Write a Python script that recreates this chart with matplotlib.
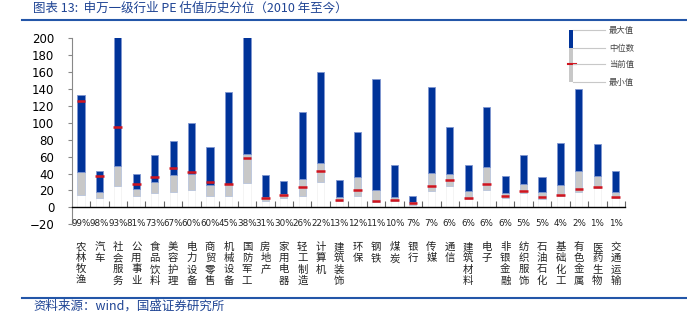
import numpy as np
import matplotlib
matplotlib.use('Agg')
import matplotlib.pyplot as plt
import matplotlib.transforms as mtrans
from matplotlib.patches import Rectangle
from matplotlib.lines import Line2D

plt.rcParams['font.family'] = ['Noto Sans CJK SC', 'DejaVu Sans']

# ===========================================================================
# Data
# ===========================================================================
industries = ['农林牧渔', '汽车', '社会服务', '公用事业', '食品饮料', '美容护理', '电力设备',
              '商贸零售', '机械设备', '国防军工', '房地产', '家用电器', '轻工制造', '计算机',
              '建筑装饰', '环保', '钢铁', '煤炭', '银行', '传媒', '通信', '建筑材料', '电子',
              '非银金融', '纺织服饰', '石油石化', '基础化工', '有色金属', '医药生物', '交通运输']
pct_labels = ['99%', '98%', '93%', '81%', '73%', '67%', '60%', '60%', '45%', '38%', '31%', '30%',
              '26%', '22%', '13%', '12%', '11%', '10%', '7%', '7%', '6%', '6%', '6%', '6%',
              '5%', '5%', '4%', '2%', '1%', '1%']
pe_max = [133.4, 42.7, 250.0, 40.0, 62.5, 78.3, 99.7, 70.9, 136.1, 230.0, 38.4, 31.7, 113.2, 159.5,
          32.9, 89.5, 151.6, 50.3, 13.9, 142.0, 94.6, 50.3, 118.3, 37.6, 62.5, 36.0, 76.4, 140.5,
          74.4, 43.2]
pe_median = [41.5, 18.6, 49.5, 22.2, 30.5, 38.4, 40.0, 26.6, 27.5, 63.3, 12.7, 15.9, 33.7, 53.0,
             11.9, 35.6, 20.6, 11.9, 6.0, 40.8, 40.0, 19.0, 47.5, 16.6, 27.3, 18.6, 26.6, 42.7,
             37.6, 18.3]
pe_min = [15.0, 11.0, 25.0, 13.9, 16.6, 17.8, 21.0, 13.5, 13.5, 28.5, 7.1, 10.7, 13.9, 29.7,
          8.0, 13.9, 6.0, 7.1, 3.2, 19.4, 25.8, 9.5, 20.2, 10.7, 16.6, 9.5, 13.9, 18.3,
          23.0, 11.5]
pe_now = [125.5, 36.8, 94.6, 27.3, 36.4, 46.3, 42.4, 29.7, 28.0, 58.2, 10.7, 14.3, 24.6, 43.6,
          9.1, 20.6, 8.0, 8.3, 4.8, 25.4, 32.1, 11.0, 27.7, 13.1, 19.0, 11.9, 15.1, 22.2,
          24.2, 12.0]

BLUE = '#003399'
GREY = '#C8C8C8'
RED = '#D0141E'
TXT_BLUE = '#1F4494'
W = 0.39

# ===========================================================================
# Figure
# ===========================================================================
FW, FH = 687, 323
fig = plt.figure(figsize=(FW / 100, FH / 100), dpi=100)


def fx(px):
    return px / FW


def fy(py):
    return 1 - py / FH


ax = fig.add_axes([fx(71.7), fy(224.3), fx(625) - fx(71.7), fy(38.2) - fy(224.3)])

x = np.arange(len(industries))
mx = np.array(pe_max)
md = np.array(pe_median)
mn = np.array(pe_min)

ax.bar(x, mn, W, color='white', edgecolor='#F0F0F0', linewidth=0.5, zorder=2)
ax.bar(x, md - mn, W, bottom=mn, color=GREY, edgecolor='#B8C4DC', linewidth=0.6, zorder=2)
ax.bar(x, mx - md, W, bottom=md, color=BLUE, edgecolor='#7F96D0', linewidth=0.6, zorder=2)
ax.hlines(pe_now, x - W / 2 - 0.04, x + W / 2 + 0.04, color=RED, linewidth=1.8, zorder=3)

ax.set_xlim(-0.5, len(industries) - 0.5)
ax.set_ylim(-20, 200)
ax.set_yticks(np.arange(-20, 201, 20))
ax.tick_params(axis='y', direction='out', length=3, color='#888888', pad=9.5,
               labelsize=8.5, labelfontfamily='DejaVu Sans')

ax.spines['top'].set_visible(False)
ax.spines['right'].set_visible(False)
ax.spines['left'].set_color('#888888')
ax.spines['bottom'].set_position(('data', 0))
ax.spines['bottom'].set_color('black')
ax.spines['bottom'].set_linewidth(1.0)
ax.set_xticks(x)
ax.set_xticklabels([])
ax.set_xticks(np.arange(-0.5, len(industries), 1.0)[1:], minor=True)
ax.tick_params(axis='x', which='major', length=0)
ax.tick_params(axis='x', which='minor', direction='in', length=4, color='#666666', width=0.8)

# percentile labels along the bottom, industry names stacked vertically below
for xi, p in zip(x, pct_labels):
    ax.text(xi, -19.3, p, ha='center', va='center', fontsize=6.3, family='DejaVu Sans',
            color='#222222')

trans = mtrans.blended_transform_factory(ax.transData, fig.transFigure)
for xi, name in zip(x, industries):
    ax.text(xi, fy(242), '\n'.join(name), transform=trans, ha='center', va='top',
            fontsize=7.5, linespacing=1.15, color='#222222', clip_on=False)

# ===========================================================================
# Legend box drawn by hand (top right)
# ===========================================================================
fig.add_artist(Rectangle((fx(569), fy(48.3)), fx(4), fy(30) - fy(48.3),
                         transform=fig.transFigure, facecolor=BLUE, edgecolor='none'))
fig.add_artist(Rectangle((fx(569), fy(82.3)), fx(4), fy(48.3) - fy(82.3),
                         transform=fig.transFigure, facecolor=GREY, edgecolor='none'))
fig.add_artist(Line2D([fx(567.5), fx(575.5)], [fy(64.3), fy(64.3)], transform=fig.transFigure,
                      color=RED, linewidth=1.5))
for py, lab in zip([30.3, 48.3, 64.3, 82.0], ['最大值', '中位数', '当前值', '最小值']):
    fig.add_artist(Line2D([fx(573), fx(605)], [fy(py), fy(py)], transform=fig.transFigure,
                          color='#C8C8C8', linewidth=0.8))
    fig.text(fx(609), fy(py), lab, ha='left', va='center', fontsize=6, color='#444444')

# ===========================================================================
# Title, source and rules
# ===========================================================================
fig.text(fx(33), fy(8), '图表 13:  申万一级行业 PE 估值历史分位（2010 年至今）',
         ha='left', va='center', fontsize=9, color=TXT_BLUE)
fig.add_artist(Line2D([fx(22), fx(687)], [fy(20), fy(20)], transform=fig.transFigure,
                      color='#2356A8', linewidth=1.5))
fig.add_artist(Line2D([fx(22), fx(687)], [fy(297.5), fy(297.5)], transform=fig.transFigure,
                      color='#2356A8', linewidth=1.5))
fig.text(fx(33), fy(306.5), '资料来源：wind，国盛证券研究所',
         ha='left', va='center', fontsize=9, color=TXT_BLUE)

fig.savefig('out.png', dpi=100)
